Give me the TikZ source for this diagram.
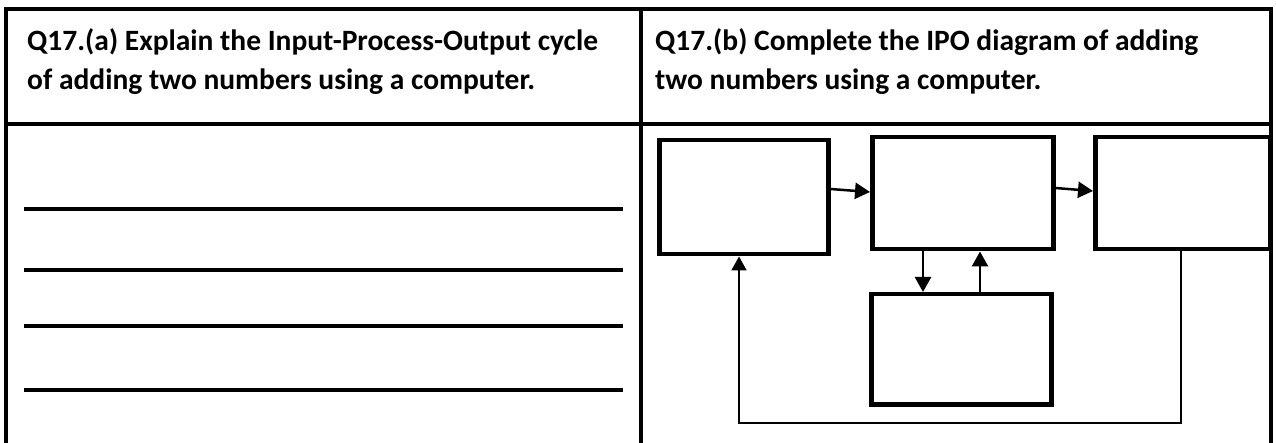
\documentclass[tikz,border=0pt]{standalone}
\usepackage{fontspec}
\setmainfont{Carlito}
\usetikzlibrary{arrows.meta}
\begin{document}
\begin{tikzpicture}[x=1pt,y=-1pt,
  cell/.style={draw,line width=3.5pt},
  head/.style={anchor=base west,align=left,inner sep=0pt,font=\bfseries\fontsize{29.5}{39}\selectfont},
  wline/.style={line width=4.5pt},
  ipo/.style={draw,line width=4.5pt,anchor=north west,inner sep=0pt},
  arr/.style={line width=2.5pt,-{Triangle[length=15pt,width=16pt]}},
  fb/.style={line width=2pt,-{Triangle[length=14pt,width=15pt]}}]
\useasboundingbox (0,0) rectangle (1276,443);
\fill[white] (0,0) rectangle (1276,443);
% table
\draw[cell] (6,445) -- (6,9) -- (1271,9) -- (1271,445);
\draw[cell] (6,124) -- (1271,124);
\draw[cell] (641,9) -- (641,445);
% headers
\node[head] (ha) at (27,90) {Q17.(a) Explain the Input-Process-Output cycle\\of adding two numbers using a computer.};
\node[head] (hb) at (655,90) {Q17.(b) Complete the IPO diagram of adding\\two numbers using a computer.};
% writing lines
\foreach \yy in {209,270,326,390} \draw[wline] (24,\yy) -- (623,\yy);
% IPO boxes
\node[ipo,minimum width=169pt,minimum height=114pt] (in) at (657,138) {};
\node[ipo,minimum width=181pt,minimum height=112pt] (pr) at (870,135) {};
\node[ipo,minimum width=175pt,minimum height=112pt] (out) at (1093,135) {};
\node[ipo,minimum width=180pt,minimum height=110pt] (st) at (869,292) {};
% arrows
\coordinate (a1) at (826,189);
\coordinate (a2) at (870,192);
\draw[arr] (in.east |- a1) -- (pr.west |- a2);
\coordinate (b1) at (1051,188);
\coordinate (b2) at (1093,191);
\draw[arr] (pr.east |- b1) -- (out.west |- b2);
\coordinate (d1) at (923,270);
\draw[arr] (pr.south -| d1) -- (st.north -| d1);
\coordinate (u1) at (980,270);
\draw[arr] (st.north -| u1) -- (pr.south -| u1);
\coordinate (f1) at (1181,423);
\coordinate (f2) at (739,423);
\draw[fb] (out.south -| f1) -- (f1) -- (f2) -- (in.south -| f2);
\end{tikzpicture}
\end{document}
